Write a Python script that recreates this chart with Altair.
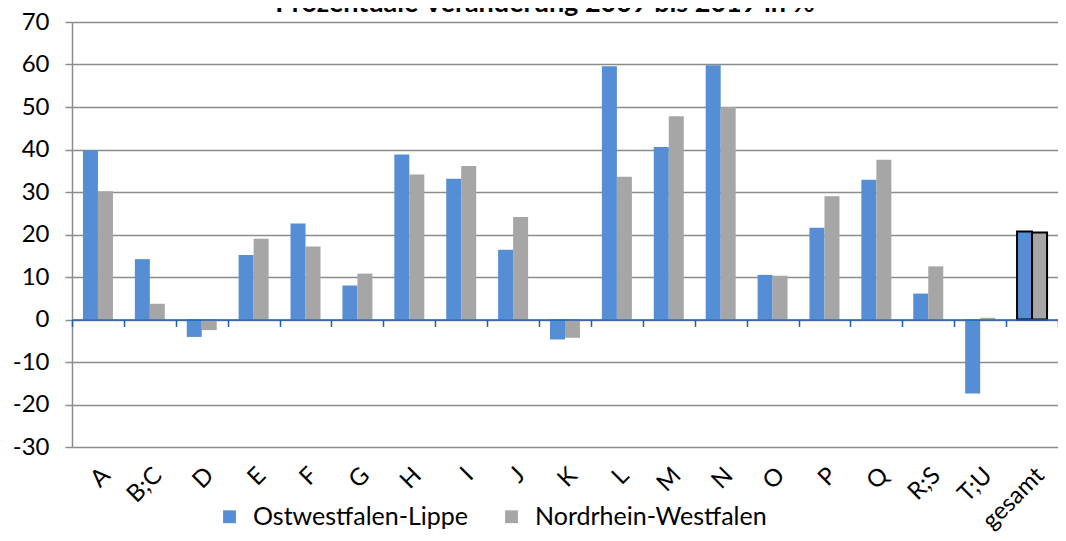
import altair as alt
import pandas as pd

categories = ["A", "B;C", "D", "E", "F", "G", "H", "I", "J", "K", "L", "M", "N",
              "O", "P", "Q", "R;S", "T;U", "gesamt"]
owl = [39.8, 14.2, -4.1, 15.2, 22.6, 8.0, 38.8, 33.1, 16.4, -4.7, 59.6, 40.6, 59.8,
       10.5, 21.6, 32.9, 6.1, -17.4, 20.7]
nrw = [30.2, 3.7, -2.5, 19.0, 17.2, 10.8, 34.1, 36.1, 24.1, -4.3, 33.6, 47.8, 50.0,
       10.3, 29.0, 37.6, 12.5, 0.4, 20.5]
series = ["Ostwestfalen-Lippe", "Nordrhein-Westfalen"]
colors = ["#558ED5", "#A6A6A6"]
title_text = "Prozentuale Veränderung 2009 bis 2019 in %"
y_ticks = [-30, -20, -10, 0, 10, 20, 30, 40, 50, 60, 70]

rows = []
for c, a, b in zip(categories, owl, nrw):
    rows.append({"cat": c, "series": series[0], "value": a})
    rows.append({"cat": c, "series": series[1], "value": b})
df = pd.DataFrame(rows)

FONT = "Lato"
W, H = 986, 425

x_scale = alt.Scale(domain=categories, paddingInner=0, paddingOuter=0)
y_scale = alt.Scale(domain=[-30, 70], nice=False, zero=False)

bars = alt.Chart(df).mark_bar().encode(
    x=alt.X("cat:N", sort=categories, scale=x_scale, title=None,
            axis=alt.Axis(labelAngle=-45, labelFontSize=24, labelFont=FONT,
                          labelColor="#000000", domain=False, ticks=False,
                          grid=False, labelPadding=16, orient="bottom")),
    xOffset=alt.XOffset("series:N", sort=series,
                        scale=alt.Scale(domain=series, paddingInner=0, paddingOuter=0.73)),
    y=alt.Y("value:Q", scale=y_scale, title=None,
            axis=alt.Axis(values=y_ticks, labelExpr="'' + datum.value",
                          labelFontSize=24, labelFont=FONT, labelColor="#000000",
                          gridColor="#8c8c8c", gridWidth=1.5,
                          domainColor="#8c8c8c", domainWidth=1.5,
                          tickColor="#8c8c8c", tickSize=7, tickWidth=1.5,
                          labelPadding=16)),
    color=alt.Color("series:N", sort=series,
                    scale=alt.Scale(domain=series, range=colors),
                    legend=alt.Legend(title=None, orient="none", direction="horizontal",
                                      legendX=145, legendY=482, symbolType="square",
                                      symbolSize=165, symbolStrokeWidth=0,
                                      labelFontSize=25, labelFont=FONT,
                                      labelColor="#000000", columnPadding=30,
                                      labelOffset=11, labelLimit=500)),
    stroke=alt.condition(alt.datum.cat == "gesamt", alt.value("#000000"),
                         alt.value(None)),
    strokeWidth=alt.condition(alt.datum.cat == "gesamt", alt.value(2),
                              alt.value(0)),
)

zero_axis = alt.Chart(df).mark_tick(opacity=0).encode(
    x=alt.X("cat:N", sort=categories, scale=x_scale, title=None,
            axis=alt.Axis(orient="bottom", labels=False, offset=-127.5,
                          domainColor="#1f5fb0", domainWidth=1.5,
                          tickColor="#1f5fb0", tickWidth=1.5,
                          tickSize=7, tickBand="extent",
                          grid=False, zindex=1)),
    y=alt.Y("value:Q", scale=y_scale, title=None),
)

title = alt.Chart(pd.DataFrame({"t": [title_text]})).mark_text(
    font=FONT, fontSize=27, fontWeight="bold", align="center",
    baseline="alphabetic", color="#000000"
).encode(text="t:N", x=alt.value(473), y=alt.value(-10))

chart = alt.layer(bars, zero_axis, title).resolve_axis(x="independent").properties(
    width=W, height=H,
    autosize=alt.AutoSizeParams(type="none"),
    padding={"left": 64, "top": 14, "right": 0, "bottom": 86},
).configure_view(stroke=None)

chart.save("out.html", embed_options={"renderer": "svg", "actions": False})
